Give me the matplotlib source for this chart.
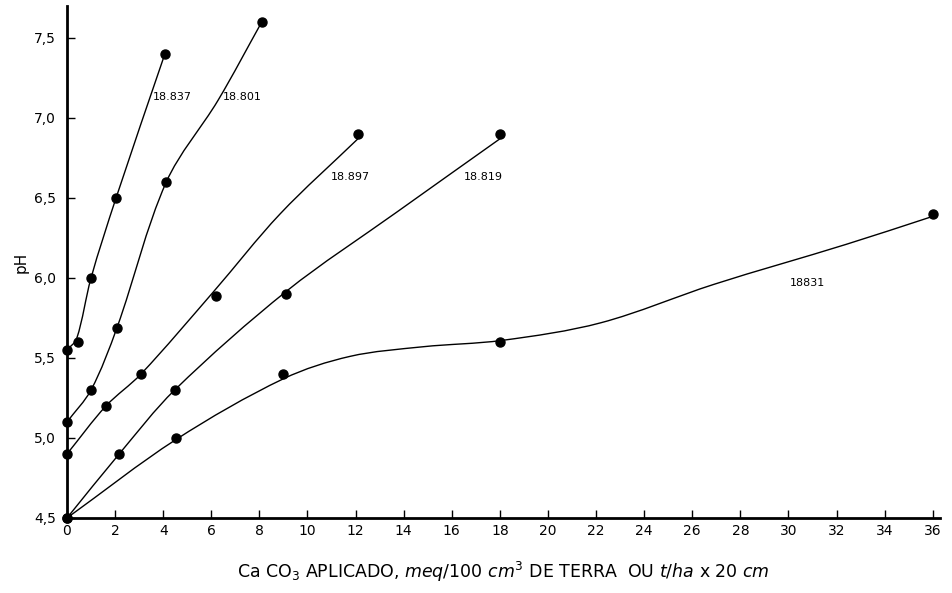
import matplotlib
matplotlib.use("Agg")
import matplotlib.pyplot as plt
from matplotlib.path import Path
from matplotlib.patches import PathPatch
import numpy as np

# pontos medidos (x = CaCO3 aplicado, y = pH)
x_18837 = [0, 0.46, 1.0, 2.04, 4.07]
y_18837 = [5.55, 5.6, 6.0, 6.5, 7.4]
x_18801 = [0, 1.0, 2.08, 4.13, 8.1]
y_18801 = [5.1, 5.3, 5.69, 6.6, 7.6]
x_18897 = [0, 1.62, 3.08, 6.2, 12.1]
y_18897 = [4.9, 5.2, 5.4, 5.89, 6.9]
x_18819 = [0, 2.17, 4.48, 9.1, 18.0]
y_18819 = [4.5, 4.9, 5.3, 5.9, 6.9]
x_18831 = [0, 4.53, 9.0, 18.0, 36.0]
y_18831 = [4.5, 5.0, 5.4, 5.6, 6.4]

# curvas ajustadas
cx_18837 = [0, 0.4, 1.0, 2.04, 4.07]
cy_18837 = [5.55, 5.62, 6.0, 6.5, 7.4]
cx_18801 = [0, 1.0, 2.08, 4.13, 6.28, 8.1]
cy_18801 = [5.1, 5.3, 5.69, 6.6, 7.11, 7.6]
cx_18897 = [0, 1.62, 3.08, 6.07, 8.86, 12.1]
cy_18897 = [4.9, 5.2, 5.4, 5.91, 6.40, 6.87]
cx_18819 = [0, 2.17, 4.48, 9.15, 13.7, 18.1]
cy_18819 = [4.5, 4.9, 5.3, 5.92, 6.41, 6.88]
cx_18831 = [0, 4.53, 9.0, 11.77, 14.8, 18.1, 22.2, 26.9, 32.4, 35.9]
cy_18831 = [4.5, 4.99, 5.37, 5.51, 5.57, 5.61, 5.72, 5.96, 6.21, 6.38]

nomes = ["18.837", "18.801", "18.897", "18.819", "18831"]
pos_nomes = [(4.4, 7.13), (7.3, 7.13), (11.8, 6.63), (17.3, 6.63), (30.8, 5.97)]

x_ticks = list(range(0, 37, 2))
y_ticks = [4.5, 5.0, 5.5, 6.0, 6.5, 7.0, 7.5]
y_tick_labels = ["4,5", "5,0", "5,5", "6,0", "6,5", "7,0", "7,5"]

SX, SY = 24.05, 160.0  # px por unidade, so para suavizar em escala visual


def curva_suave(ax, xs, ys):
    # spline cubica por comprimento de corda -> bezier, desenhada pelo matplotlib
    p = np.column_stack([np.array(xs) * SX, np.array(ys) * SY])
    n = len(p)
    d = np.linalg.norm(np.diff(p, axis=0), axis=1)
    m = np.zeros_like(p)
    m[0] = (p[1] - p[0]) / d[0]
    m[-1] = (p[-1] - p[-2]) / d[-1]
    for i in range(1, n - 1):
        m[i] = (p[i + 1] - p[i - 1]) / (d[i - 1] + d[i])
    verts = [p[0]]
    codes = [Path.MOVETO]
    for i in range(n - 1):
        c1 = p[i] + m[i] * d[i] / 3.0
        c2 = p[i + 1] - m[i + 1] * d[i] / 3.0
        verts += [c1, c2, p[i + 1]]
        codes += [Path.CURVE4] * 3
    verts = np.array(verts) / [SX, SY]
    ax.add_patch(PathPatch(Path(verts, codes), facecolor="none",
                           edgecolor="black", linewidth=1.0))


fig = plt.figure(figsize=(9.53, 5.93), dpi=100)
ax = fig.add_axes([0.0703, 0.1265, 0.916, 0.8635])

curvas = [(cx_18837, cy_18837), (cx_18801, cy_18801), (cx_18897, cy_18897),
          (cx_18819, cy_18819), (cx_18831, cy_18831)]
pontos = [(x_18837, y_18837), (x_18801, y_18801), (x_18897, y_18897),
          (x_18819, y_18819), (x_18831, y_18831)]

for cx, cy in curvas:
    curva_suave(ax, cx, cy)
for px, py in pontos:
    ax.plot(px, py, "o", color="black", markersize=6.5, clip_on=False, zorder=3)

for nome, (tx, ty) in zip(nomes, pos_nomes):
    ax.text(tx, ty, nome, fontsize=8, ha="center", va="center")

ax.set_xlim(0, 36.3)
ax.set_ylim(4.5, 7.7)
ax.spines['right'].set_color('none')
ax.spines['top'].set_color('none')
ax.spines['left'].set_linewidth(2)
ax.spines['bottom'].set_linewidth(2)

ax.set_xticks(x_ticks)
ax.set_xticklabels([str(v) for v in x_ticks])
ax.set_yticks(y_ticks)
ax.set_yticklabels(y_tick_labels)
ax.tick_params(axis='both', direction='in', length=6, width=1, labelsize=10)
ax.tick_params(axis='x', pad=4)
ax.tick_params(axis='y', pad=8)

ax.set_ylabel("pH", fontsize=11, labelpad=4)
ax.set_xlabel(r"Ca CO$_3$ APLICADO, $meq/100\ cm^3$ DE TERRA  OU $t/ha$ x 20 $cm$",
              fontsize=12.5, labelpad=16)

plt.savefig("out.png", dpi=100)
